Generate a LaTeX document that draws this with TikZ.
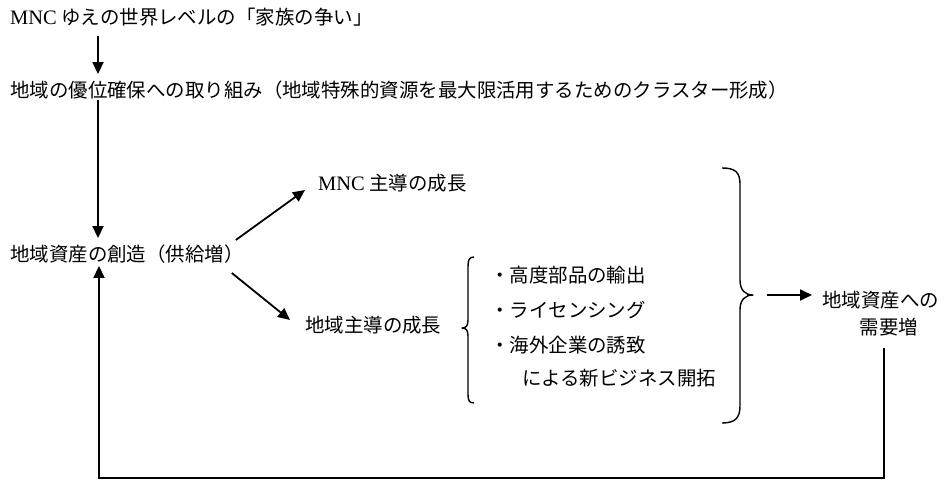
\documentclass[tikz,border=0pt]{standalone}
\usepackage{fontspec}
\setmainfont{Liberation Serif}
\newfontfamily\jp{Noto Sans CJK JP}
\newfontfamily\lat{Liberation Serif}
\usetikzlibrary{arrows.meta}
\begin{document}
\begin{tikzpicture}[x=1pt,y=-1pt,
  txt/.style={inner sep=0pt, anchor=west, text height=17.1pt, text depth=2.4pt,
    font={\jp\fontsize{19.45pt}{24pt}\selectfont}},
  arr/.style={line width=1.8pt, -{Triangle[length=12pt,width=11pt]}},
  bracepath/.style={line width=1.4pt, line join=round}]
\useasboundingbox (0,0) rectangle (944,480);
% texts
\node[txt] (t1) at (10,17) {{\lat\fontsize{20.5pt}{24pt}\selectfont MNC} ゆえの世界レベルの「家族の争い」};
\node[txt] (t2) at (10,90) {地域の優位確保への取り組み（地域特殊的資源を最大限活用するためのクラスター形成）};
\node[txt] (t3) at (10,254) {地域資産の創造（供給増）};
\node[txt] (mnc) at (318,183) {{\lat\fontsize{20.5pt}{24pt}\selectfont MNC} 主導の成長};
\node[txt] (loc) at (305,325) {地域主導の成長};
\node[txt] (i1) at (490,275) {・高度部品の輸出};
\node[txt] (i2) at (490,310) {・ライセンシング};
\node[txt] (i3) at (490,345) {・海外企業の誘致};
\node[txt] (i4) at (522,378) {による新ビジネス開拓};
\node[txt] (dem1) at (822,300) {地域資産への};
\node[txt, anchor=center] (dem2) at (889,327) {需要増};
% helper coordinates
\coordinate (ax) at (98,0);
\coordinate (lx) at (99,478);
\coordinate (rx) at (884,478);
\coordinate (lbtip) at (462,328);
\coordinate (rbtip) at (753,295);
% vertical arrows
\draw[arr] ([yshift=-9pt]t1.south -| ax) -- ([yshift=6pt]t2.north -| ax);
\draw[arr] (t2.south -| ax) -- ([yshift=6pt]t3.north -| ax);
% diagonal arrows
\draw[arr] ([xshift=-8pt,yshift=14pt]t3.east) -- ([xshift=-13pt,yshift=-7pt]mnc.west);
\draw[arr] ([xshift=-12pt,yshift=-19pt]t3.east) -- ([xshift=-15pt,yshift=5pt]loc.west);
% feedback loop
\draw[arr] ([yshift=-11pt]dem2.south -| rx) -- (rx) -- (lx) -- ([yshift=-2pt]t3.south -| lx);
% left brace
\draw[bracepath] (474,257) .. controls (469,257) and (468,260) .. (468,267)
  -- (468,320) .. controls (468,326) and (466,328) .. (lbtip)
  .. controls (466,328) and (468,330) .. (468,336)
  -- (468,394) .. controls (468,400) and (469,403) .. (474,403);
% right brace
\draw[bracepath] (722,168) .. controls (735,168) and (740,172) .. (740,184)
  -- (740,280) .. controls (740,290) and (745,295) .. (rbtip)
  .. controls (745,295) and (740,300) .. (740,310)
  -- (740,406) .. controls (740,418) and (735,423) .. (722,423);
% arrow from brace to demand
\draw[arr] ([xshift=14pt]rbtip) -- ([xshift=-10pt,yshift=5pt]dem1.west);
\end{tikzpicture}
\end{document}
